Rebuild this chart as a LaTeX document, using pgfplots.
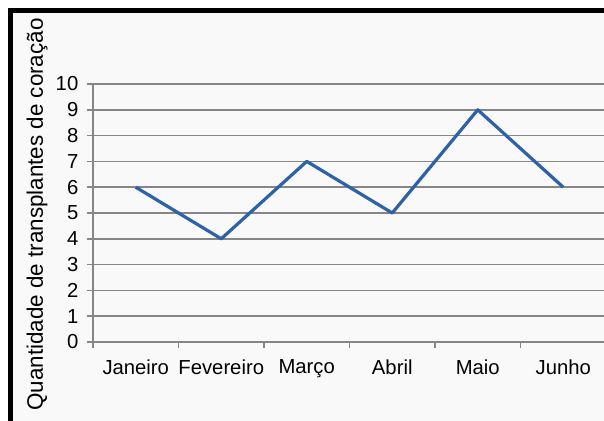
\documentclass[border=0pt]{standalone}
\usepackage{pgfplots}
\pgfplotsset{compat=1.18}
\usepackage{fontspec}
\setmainfont{Liberation Sans}
\definecolor{bgcol}{HTML}{F9F9F9}
\definecolor{gridcol}{HTML}{868686}
\definecolor{linecol}{RGB}{46,98,168}
\begin{document}
\begin{tikzpicture}[x=0.75pt,y=0.75pt]
\path[use as bounding box] (0,0) rectangle (604,421);
\clip (0,0) rectangle (604,421);
\fill[bgcol] (13,0) rectangle (604,408);
\draw[line width=3.75pt] (10.5,0) -- (10.5,410.5) -- (604,410.5);
\begin{axis}[
    at={(69.75pt,59.25pt)}, anchor=south west,
    scale only axis,
    width=384.75pt, height=193.5pt,
    xmin=-0.5, xmax=5.5,
    ymin=0, ymax=10,
    axis lines*=left,
    axis line style={gridcol, line width=1.1pt},
    xtick={-0.5,0.5,1.5,2.5,3.5,4.5,5.5},
    x tick label as interval,
    xticklabels={Janeiro,Fevereiro,Março,Abril,Maio,Junho},
    ytick={0,1,...,10},
    ymajorgrids,
    grid style={gridcol, line width=1.1pt},
    tick align=outside,
    major tick length=4.5pt,
    tick style={gridcol, line width=1.1pt},
    ticklabel style={font=\fontsize{15.2}{17}\selectfont},
    xticklabel style={yshift=-5pt},
    yticklabel style={xshift=-3pt},
    /pgf/number format/assume math mode=true,
    ylabel={Quantidade de transplantes de coração},
    ylabel style={font=\fontsize{16.8}{19}\selectfont, at={(axis description cs:-0.109,0.494)}, anchor=center},
]
\addplot[linecol, line width=2.4pt, line join=round] coordinates {
    (0,6) (1,4) (2,7) (3,5) (4,9) (5,6)
};
\end{axis}
\end{tikzpicture}
\end{document}
